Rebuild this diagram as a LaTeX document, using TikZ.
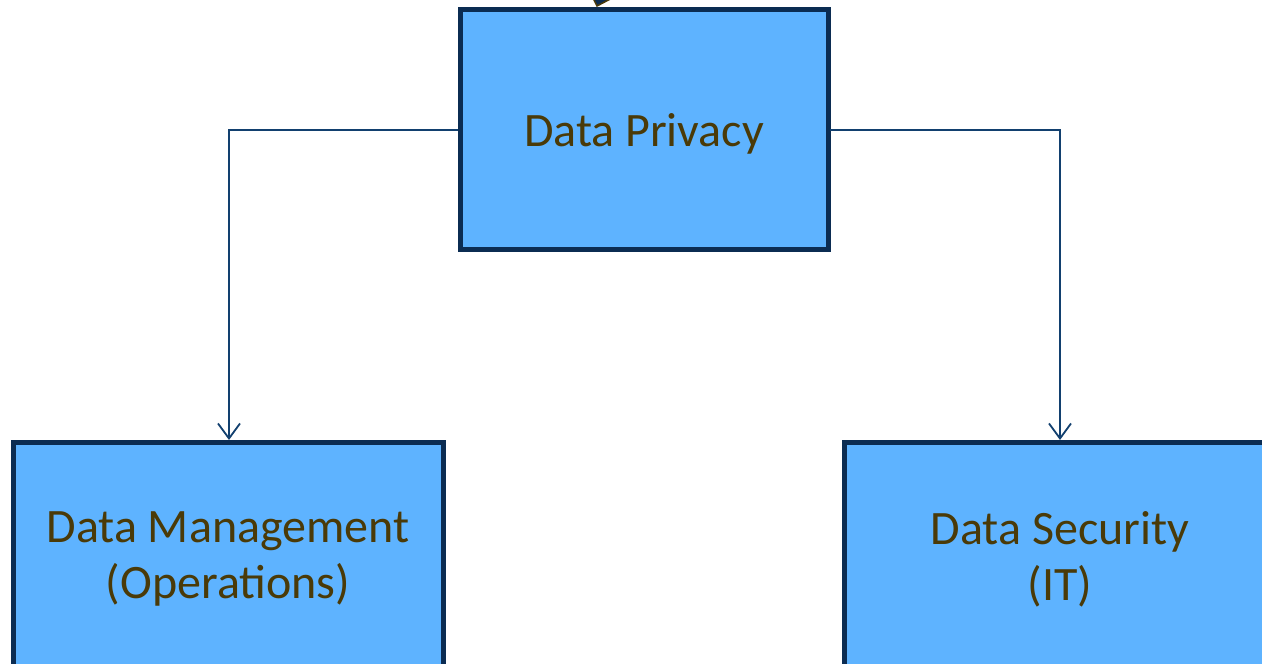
\documentclass[tikz,border=0pt]{standalone}
\usepackage{fontspec}
\setmainfont{Carlito}
\usetikzlibrary{arrows.meta}
\definecolor{boxfill}{HTML}{5EB3FF}
\definecolor{boxedge}{HTML}{0B2C52}
\definecolor{linkcol}{HTML}{12406F}
\definecolor{txtcol}{HTML}{4A3A08}
\tikzset{
  unitbox/.style={draw=boxedge, line width=5pt, fill=boxfill},
  boxlabel/.style={text=txtcol, font=\fontsize{48}{56}\selectfont, align=center, inner sep=0pt},
  link/.style={draw=linkcol, line width=1.8pt, -{Straight Barb[length=15pt,width=22pt,line width=1.8pt]}},
}
\begin{document}
\begin{tikzpicture}[x=1pt,y=-1pt]
\useasboundingbox (0,0) rectangle (1262,664);
\clip (0,0) rectangle (1262,664);
\fill[white] (0,0) rectangle (1262,664);
% partly visible marker above the top box
\draw[fill=boxedge, draw=txtcol, line width=1.5pt] (592,-4) -- (597,6) -- (616,-4) -- cycle;
% boxes
\draw[unitbox] (460,9.5) rectangle (828,249);
\node[boxlabel] (dp) at (644,134) {Data Privacy};
\draw[unitbox] (13,442) rectangle (443,700);
\node[boxlabel] (dm) at (228,559) {Data Management\\(Operations)};
\draw[unitbox] (844,442) rectangle (1300,700);
\node[boxlabel] (ds) at (1060,559) {Data Security\\(IT)};
% anchors on the box borders
\coordinate (dpL) at (458,130);
\coordinate (dpR) at (830,130);
\coordinate (dmT) at (229,440);
\coordinate (dsT) at (1060,440);
\draw[link] (dpL) -| (dmT);
\draw[link] (dpR) -| (dsT);
\end{tikzpicture}
\end{document}
